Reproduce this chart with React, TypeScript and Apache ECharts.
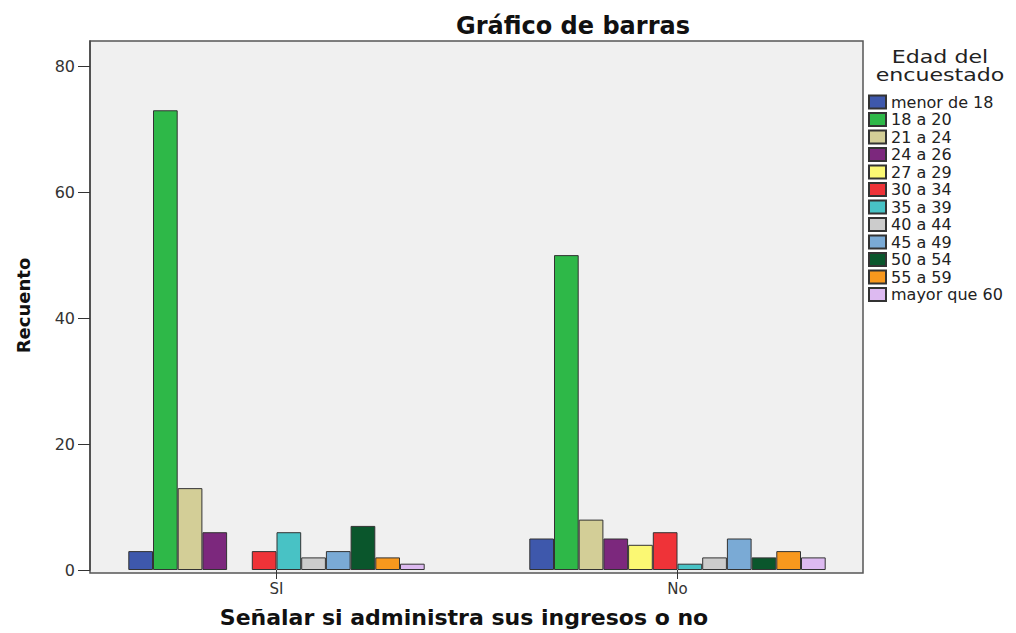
import React, { useEffect, useRef } from "react";
import * as echarts from "echarts";

const categories = ["SI", "No"];
const ageGroups = [
  "menor de 18",
  "18 a 20",
  "21 a 24",
  "24 a 26",
  "27 a 29",
  "30 a 34",
  "35 a 39",
  "40 a 44",
  "45 a 49",
  "50 a 54",
  "55 a 59",
  "mayor que 60",
];
// counts per age group: [SI, No]
const siValues = [3, 73, 13, 6, null, 3, 6, 2, 3, 7, 2, 1];
const noValues = [5, 50, 8, 5, 4, 6, 1, 2, 5, 2, 3, 2];
const colors = [
  "#3E58AC",
  "#2EB848",
  "#D3CE97",
  "#7C287D",
  "#FBF873",
  "#EF3338",
  "#48C2C5",
  "#CCCCCC",
  "#7AAAD5",
  "#0A562C",
  "#F8981D",
  "#DDBAF1",
];
const yTicks = [0, 20, 40, 60, 80];

const FONT = "'DejaVu Sans', 'Liberation Sans', Arial, sans-serif";

export default function App() {
  const ref = useRef<HTMLDivElement>(null);
  useEffect(() => {
    if (!ref.current) return;
    const chart = echarts.init(ref.current, null, { renderer: "svg" });
    const series = ageGroups.map((name, i) => ({
      name,
      type: "bar",
      data: [siValues[i], noValues[i]],
      barWidth: 24.7,
      barGap: "0%",
      itemStyle: { color: colors[i], borderColor: "#333", borderWidth: 1 },
      z: 3,
    }));
    chart.setOption({
      animation: false,
      backgroundColor: "#ffffff",
      title: {
        text: "Gráfico de barras",
        left: 568,
        top: 9,
        textAlign: "center",
        textStyle: { fontFamily: FONT, fontSize: 24, fontWeight: "bold", color: "#111" },
      },
      grid: { left: 76, right: 138, top: 41, bottom: 60 },
      graphic: [
        {
          type: "rect",
          z: -1,
          shape: { x: 90, y: 41, width: 773, height: 532 },
          style: { fill: "#f0f0f0", stroke: "#555", lineWidth: 1.5 },
          silent: true,
        },
        {
          type: "text",
          x: 940,
          y: 48,
          scaleX: 1.3,
          style: {
            text: "Edad del\nencuestado",
            fontFamily: FONT,
            fontSize: 17,
            lineHeight: 18,
            textAlign: "center",
            fill: "#222",
          },
        },
      ],
      legend: {
        orient: "vertical",
        left: 868,
        top: 94,
        padding: 0,
        itemWidth: 17,
        itemHeight: 13,
        itemGap: 1.5,
        icon: "rect",
        data: ageGroups,
        textStyle: { fontFamily: FONT, fontSize: 16, color: "#222", lineHeight: 15 },
      },
      xAxis: {
        type: "category",
        data: categories,
        axisLine: { show: false },
        axisTick: { show: true, alignWithLabel: true, length: 9, lineStyle: { color: "#333" } },
        axisLabel: { fontFamily: FONT, fontSize: 15, color: "#333", margin: 11 },
        name: "Señalar si administra sus ingresos o no",
        nameLocation: "middle",
        nameGap: 36,
        nameTextStyle: {
          fontFamily: FONT,
          fontSize: 22,
          fontWeight: "bold",
          color: "#111",
          padding: [0, 26, 0, 0],
        },
      },
      yAxis: {
        type: "value",
        min: 0,
        max: 84,
        interval: 20,
        offset: -14,
        splitLine: { show: false },
        axisLine: { show: true, lineStyle: { color: "#444", width: 1.5 } },
        axisTick: { show: true, length: 12, lineStyle: { color: "#333" }, customValues: yTicks },
        axisLabel: { fontFamily: FONT, fontSize: 16, color: "#333", margin: 15, customValues: yTicks },
        name: "Recuento",
        nameLocation: "middle",
        nameGap: 58,
        nameTextStyle: { fontFamily: FONT, fontSize: 18, fontWeight: "bold", color: "#111" },
      },
      series,
    });
    return () => chart.dispose();
  }, []);
  return (
    <div
      ref={ref}
      style={{ position: "fixed", left: 0, top: 0, width: 1016, height: 633 }}
    />
  );
}
